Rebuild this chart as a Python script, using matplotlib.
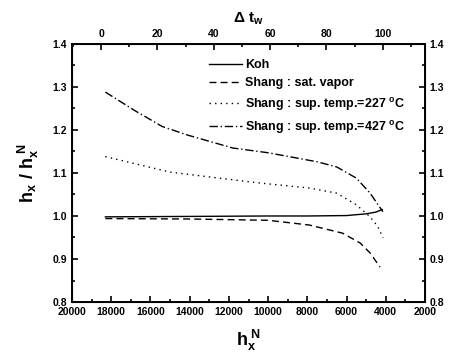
import matplotlib.pyplot as plt
from matplotlib.ticker import MultipleLocator

plt.rcParams['font.family'] = 'Liberation Sans'
plt.rcParams['font.weight'] = 'bold'
plt.rcParams['mathtext.fontset'] = 'custom'
plt.rcParams['mathtext.rm'] = 'Liberation Sans:bold'
plt.rcParams['mathtext.bf'] = 'Liberation Sans:bold'
plt.rcParams['mathtext.it'] = 'Liberation Sans:bold'

# curves, h_x^N vs h_x/h_x^N
hx_koh = [18300, 14000, 10000, 8000, 6000, 5000, 4500, 4190]
r_koh = [0.998, 0.999, 1.000, 1.000, 1.001, 1.005, 1.009, 1.015]

hx_sat = [18300, 14000, 10000, 7900, 6200, 5300, 4800, 4290]
r_sat = [0.994, 0.993, 0.990, 0.979, 0.960, 0.937, 0.914, 0.881]

hx_227 = [18300, 15000, 12500, 10500, 7900, 6500, 5500, 4800, 4400, 4140]
r_227 = [1.138, 1.102, 1.088, 1.077, 1.065, 1.053, 1.026, 0.998, 0.975, 0.949]

hx_427 = [18300, 16800, 15400, 14100, 11800, 10000, 7500, 6500, 5500, 4800, 4300, 4150]
r_427 = [1.288, 1.245, 1.208, 1.188, 1.158, 1.147, 1.126, 1.114, 1.088, 1.053, 1.020, 1.010]

fig = plt.figure(figsize=(4.56, 3.63), dpi=100)
ax = fig.add_axes([0.158, 0.168, 0.774, 0.711])

ax.plot(hx_koh, r_koh, color='black', lw=1.0, ls='-', label='Koh')
ax.plot(hx_sat, r_sat, color='black', lw=1.0, ls=(0, (5, 3)), label='Shang : sat. vapor')
ax.plot(hx_227, r_227, color='black', lw=1.0, ls=(0, (1, 3)), label=r'Shang : sup. temp.=227 $^{\mathrm{o}}$C')
ax.plot(hx_427, r_427, color='black', lw=1.0, ls=(0, (6, 2, 1, 2)), label=r'Shang : sup. temp.=427 $^{\mathrm{o}}$C')

ax.set_xlim(20000, 2000)
ax.set_ylim(0.8, 1.4)
ax.xaxis.set_major_locator(MultipleLocator(2000))
ax.xaxis.set_minor_locator(MultipleLocator(1000))
ax.yaxis.set_major_locator(MultipleLocator(0.1))
ax.yaxis.set_minor_locator(MultipleLocator(0.05))
ax.yaxis.set_major_formatter(plt.FuncFormatter(lambda v, p: f'{v:.1f}'))
ax.tick_params(axis='both', which='both', direction='in', labelsize=7.5, width=1.2)
ax.tick_params(axis='y', which='both', right=True, labelright=True)
ax.tick_params(which='major', length=4.5)
ax.tick_params(which='minor', length=2.5)
for s in ax.spines.values():
    s.set_linewidth(1.4)

ax.set_xlabel(r'$\mathbf{h_x^{\ N}}$', fontsize=13, labelpad=8)
ax.set_ylabel(r'$\mathbf{h_x\ /\ h_x^{\ N}}$', fontsize=13, labelpad=8)

top = ax.twiny()
top.set_xlim(-10.3, 115)
top.xaxis.set_major_locator(MultipleLocator(20))
top.xaxis.set_minor_locator(MultipleLocator(10))
top.tick_params(axis='x', which='both', direction='in', labelsize=7.5, width=1.2)
top.tick_params(which='major', length=4.5)
top.tick_params(which='minor', length=2.5)
top.set_xlabel(r'$\mathbf{\Delta\ t_w}$', fontsize=11, labelpad=5)

ax.legend(loc='upper left', bbox_to_anchor=(0.355, 0.985), frameon=False, fontsize=9,
          handlelength=2.65, handletextpad=0.25, labelspacing=0.5)

fig.savefig('out.png', dpi=100)
